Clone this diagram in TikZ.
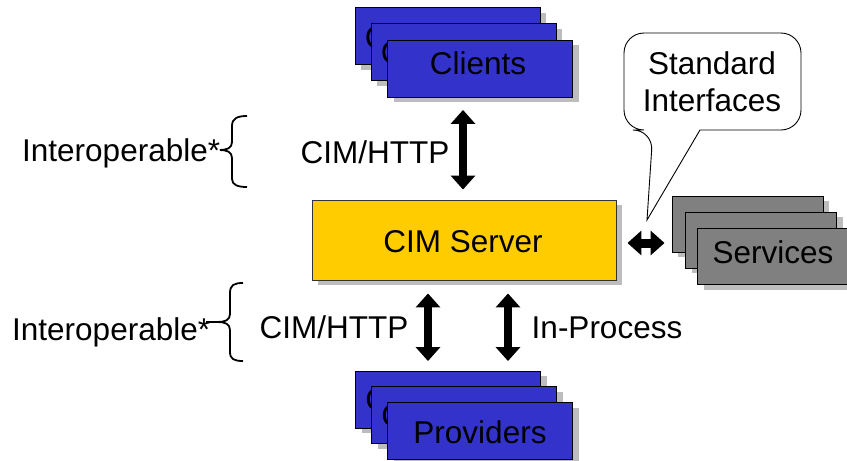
\documentclass[tikz,border=0pt]{standalone}
\usepackage{fontspec}
\setmainfont{Liberation Sans}
\usetikzlibrary{arrows.meta,shadows,calc}
\definecolor{cardblue}{HTML}{3333CC}
\definecolor{srvyellow}{HTML}{FFCC00}
\definecolor{svcgray}{HTML}{808080}
\definecolor{shadowgray}{HTML}{BDBDBD}
\begin{document}
\begin{tikzpicture}[x=1pt,y=-1pt,
  shadowed/.style={general shadow={fill=shadowgray, shadow xshift=6pt, shadow yshift=-5pt}},
  box/.style={draw=black, line width=0.9pt, inner sep=0pt, shadowed},
  bluecard/.style={box, fill=cardblue, minimum width=185pt, minimum height=57pt},
  graycard/.style={box, fill=svcgray, minimum width=151pt, minimum height=56pt},
  serverbox/.style={box, draw=black!80, fill=srvyellow, minimum width=304pt, minimum height=80pt},
  txt/.style={font=\fontsize{31.5pt}{37pt}\selectfont, inner sep=0pt, anchor=base},
  fat/.style={line width=8pt, {Triangle[length=14pt,width=24pt]}-{Triangle[length=14pt,width=24pt]}},
  bracestroke/.style={line width=1.8pt},
  calloutline/.style={draw=black, line width=0.9pt, fill=white}
]
\useasboundingbox (0,0) rectangle (847,461);

% Clients stack
\node[bluecard] (clientb) at (447.5,36) {};
\node[txt, anchor=base west] (clientbtxt) at ([xshift=10pt,yshift=-12pt]clientb.west) {C};
\node[bluecard] (clientm) at (463.5,52) {};
\node[txt, anchor=base west] (clientmtxt) at ([xshift=10pt,yshift=-11pt]clientm.west) {C};
\node[bluecard] (clientf) at (480,68.5) {};
\node[txt] (clientstxt) at (478,74) {Clients};

% CIM Server
\node[serverbox] (server) at (464,240) {};
\node[txt] (servertxt) at (463,252) {CIM Server};

% Providers stack
\node[bluecard] (provb) at (448,399.5) {};
\node[txt, anchor=base west] (provbtxt) at ([xshift=10pt,yshift=-11pt]provb.west) {C};
\node[bluecard] (provm) at (464,415) {};
\node[txt, anchor=base west] (provmtxt) at ([xshift=10pt,yshift=-11pt]provm.west) {C};
\node[bluecard] (provf) at (480,431) {};
\node[txt] (provtxt) at (480,443) {Providers};

% Services stack
\node[graycard] (servb) at (747.5,224) {};
\node[graycard] (servm) at (761,240) {};
\node[graycard] (servf) at (773,256.5) {};
\node[txt] (servtxt) at (773,263) {Services};

% Callout
\draw[calloutline] (712,33) [rounded corners=20pt] -- (624,33) -- (624,130) -- (653,130)
  [sharp corners] -- (647,220) -- (700,130) [rounded corners=20pt] -- (801,130) -- (801,33) -- cycle;
\node[txt, anchor=center, align=center] (stdtxt) at (712,82) {Standard\\Interfaces};

% Arrows
\draw[fat, shorten <=12.5pt, shorten >=10pt] ([xshift=-17pt]clientf.south) -- ([xshift=-1pt]server.north);
\draw[fat, shorten <=13pt, shorten >=9.5pt] ([xshift=-36pt]server.south) -- ([xshift=-20pt]provb.north);
\draw[fat, shorten <=13pt, shorten >=9.5pt] ([xshift=44pt]server.south) -- ([xshift=60pt]provb.north);
\draw[fat, line width=9pt, shorten <=11pt, shorten >=7pt] ([yshift=-3pt]server.east) -- ([yshift=-3pt]server.east -| servb.west);

% Labels
\node[txt] (http1) at (375,163) {CIM/HTTP};
\node[txt] (http2) at (334,338) {CIM/HTTP};
\node[txt] (inproc) at (607,338) {In-Process};

% Braces and Interoperable labels
\draw[bracestroke] (247,116) .. controls (238,116) and (232,118) .. (232,126) -- (232,142)
  .. controls (232,148) and (227,150) .. (220,150)
  .. controls (227,150) and (232,152) .. (232,158) -- (232,179)
  .. controls (232,185) and (238,187) .. (247,187);
\node[txt, anchor=base west] (interop1) at (22,161) {Interoperable*};

\draw[bracestroke] (243,283) .. controls (234,283) and (230,285) .. (230,293) -- (230,314)
  .. controls (230,320) and (225,322) .. (218,322) -- (206,322);
\draw[bracestroke] (218,322) .. controls (225,322) and (230,324) .. (230,330) -- (230,352)
  .. controls (230,359) and (234,361) .. (243,361);
\node[txt, anchor=base west] (interop2) at (12,340) {Interoperable*};
\end{tikzpicture}
\end{document}
